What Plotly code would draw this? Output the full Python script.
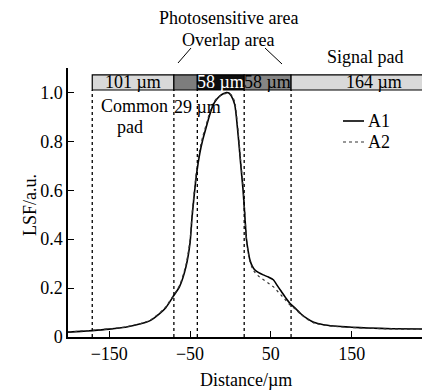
import plotly.graph_objects as go

# ---- data ----
dist = [-201, -185, -171, -150, -130, -110, -100, -88, -80, -71, -63, -55, -50, -47.5,
        -45, -42, -38, -34, -30, -26, -21.5, -17, -13, -9, -5, -2, 1.2, 5.3, 9.5, 12.4,
        15.6, 17.7, 19.8, 22, 24, 27, 30, 35, 40.5, 47, 53, 58, 63, 68, 73.5, 81, 87, 95,
        103, 115, 128, 150, 170, 200, 237]
lsf_a1 = [0.020, 0.023, 0.026, 0.032, 0.040, 0.055, 0.066, 0.095, 0.120, 0.165, 0.206,
          0.288, 0.385, 0.490, 0.575, 0.665, 0.750, 0.810, 0.858, 0.905, 0.948, 0.972,
          0.986, 0.995, 1.000, 0.998, 0.985, 0.950, 0.826, 0.717, 0.600, 0.500, 0.400,
          0.350, 0.316, 0.290, 0.275, 0.263, 0.254, 0.245, 0.234, 0.210, 0.186, 0.162,
          0.138, 0.115, 0.095, 0.075, 0.060, 0.050, 0.045, 0.040, 0.037, 0.034, 0.033]
lsf_a2 = [0.021, 0.024, 0.027, 0.033, 0.041, 0.056, 0.067, 0.097, 0.123, 0.168, 0.210,
          0.295, 0.395, 0.502, 0.588, 0.678, 0.765, 0.823, 0.868, 0.915, 0.955, 0.975,
          0.986, 0.993, 0.996, 0.995, 0.990, 0.960, 0.840, 0.730, 0.615, 0.510, 0.400,
          0.345, 0.310, 0.282, 0.265, 0.248, 0.235, 0.220, 0.206, 0.188, 0.170, 0.152,
          0.132, 0.112, 0.093, 0.073, 0.058, 0.049, 0.044, 0.039, 0.036, 0.033, 0.032]

# region boundaries (µm) and labels of the electrode bar
bounds = [-171, -70, -41, 17, 75, 300]
seg_labels = ["101 µm", "", "58 µm", "58 µm", "164 µm"]
seg_label_x = [-120.5, -55.5, -12, 46, 178]
seg_colors = ["#d9d9d9", "#7d7d7d", "#0e0e0e", "#858585", "#d9d9d9"]
seg_text_colors = ["black", "black", "white", "black", "black"]
dash_lines = [-171, -70, -41, 17, 75]

xticks = [-150, -50, 50, 150]
yticks = [0, 0.2, 0.4, 0.6, 0.8, 1.0]
yticklabels = ["0", "0.2", "0.4", "0.6", "0.8", "1.0"]

FONT = "Liberation Serif"
W, H = 422, 392
L, R, T, B = 68, 0, 68, 55

def px(xp):
    return (xp - L) / (W - L - R)

def py(yp):
    return (H - B - yp) / (H - T - B)

fig = go.Figure()
fig.add_trace(go.Scatter(x=dist, y=lsf_a1, mode="lines", name="A1",
                         line=dict(color="black", width=1.6, shape="spline", smoothing=0.6)))
fig.add_trace(go.Scatter(x=dist, y=lsf_a2, mode="lines", name="A2",
                         line=dict(color="#333", width=1.2, dash="dot", shape="spline", smoothing=0.6)))

shapes = []
for xv in dash_lines:
    shapes.append(dict(type="line", xref="x", yref="y", x0=xv, x1=xv, y0=0, y1=1.01,
                       line=dict(color="black", width=1.3, dash="dot")))
for i in range(len(seg_colors)):
    shapes.append(dict(type="rect", xref="x", yref="y", x0=bounds[i], x1=bounds[i + 1],
                       y0=1.01, y1=1.072, fillcolor=seg_colors[i],
                       line=dict(color="black", width=1.2), layer="above"))
# pointer lines
shapes.append(dict(type="line", xref="paper", yref="paper", x0=px(178), y0=py(63),
                   x1=px(191), y1=py(48), line=dict(color="black", width=1)))
shapes.append(dict(type="line", xref="paper", yref="paper", x0=px(282), y0=py(64),
                   x1=px(265), y1=py(48), line=dict(color="black", width=1)))
# legend samples
shapes.append(dict(type="line", xref="paper", yref="paper", x0=px(343), x1=px(364),
                   y0=py(121), y1=py(121), line=dict(color="black", width=1.6)))
shapes.append(dict(type="line", xref="paper", yref="paper", x0=px(343), x1=px(364),
                   y0=py(142), y1=py(142), line=dict(color="#333", width=1.2, dash="dot")))

ann = []
for i, t in enumerate(seg_labels):
    if t:
        ann.append(dict(x=seg_label_x[i], y=1.041, xref="x", yref="y", text=t, showarrow=False,
                        font=dict(family=FONT, size=18, color=seg_text_colors[i])))

def txt(t, xp, yp, anchor="center", size=18):
    ann.append(dict(x=px(xp), y=py(yp), xref="paper", yref="paper", text=t, showarrow=False,
                    xanchor=anchor, yanchor="middle", font=dict(family=FONT, size=size, color="black")))

txt("Photosensitive area", 228, 18)
txt("Overlap area", 228, 40)
txt("Signal pad", 365, 57)
txt("Common", 134, 106)
txt("pad", 130, 127)
txt("29 µm", 197, 107)
txt("A1", 366, 121, anchor="left")
txt("A2", 366, 142, anchor="left")
txt("Distance/µm", 246, 380)
ann.append(dict(x=px(18), y=py(205), xref="paper", yref="paper", text="LSF/a.u.",
                showarrow=False, textangle=-90, font=dict(family=FONT, size=18, color="black")))

fig.update_layout(
    width=W, height=H, margin=dict(l=L, r=R, t=T, b=B),
    paper_bgcolor="white", plot_bgcolor="white", showlegend=False,
    font=dict(family=FONT, size=18, color="black"),
    shapes=shapes, annotations=ann,
    xaxis=dict(range=[-201, 237], tickvals=xticks, ticks="inside", ticklen=6,
               tickcolor="black", showline=True, linecolor="black", linewidth=1.5,
               showgrid=False, zeroline=False, tickfont=dict(family=FONT, size=18)),
    yaxis=dict(range=[0, 1.1], tickvals=yticks, ticktext=yticklabels, ticks="inside",
               ticklen=6, tickcolor="black", showline=True, linecolor="black", linewidth=1.5,
               showgrid=False, zeroline=False, tickfont=dict(family=FONT, size=18)),
)
fig.write_html("out.html")
